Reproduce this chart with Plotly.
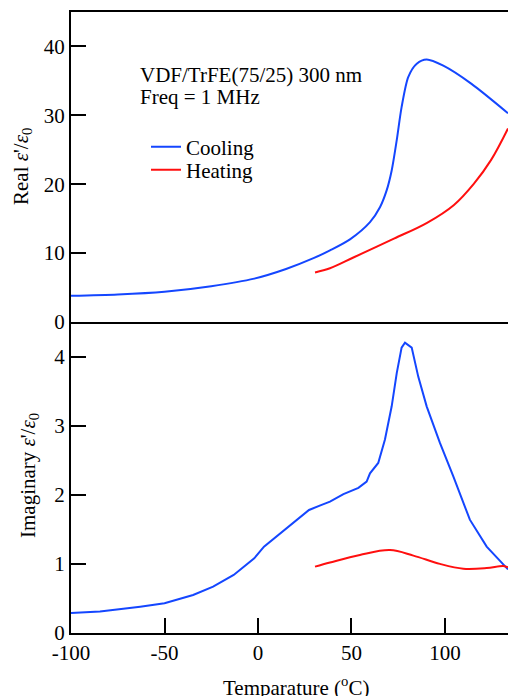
import plotly.graph_objects as go

# Real part (top panel)
real_cool_T = [-100, -75, -50, -25, -2, 15, 30, 38.5, 49.2, 59.9, 65.3, 68.8, 71.5, 74.2, 76.8, 80.4, 84.9,
               90.2, 99.1, 114, 133.7]
real_cool_v = [3.8, 4.0, 4.4, 5.2, 6.3, 7.7, 9.3, 10.4, 12.0, 14.5, 16.7, 19.1, 22.0, 26.4, 31.2, 35.6, 37.5,
               38.1, 37.2, 34.6, 30.3]
real_heat_T = [30.5, 38.5, 51.3, 72.7, 90.4, 104.8, 115.5, 124.6, 133.7]
real_heat_v = [7.2, 7.8, 9.4, 12.1, 14.4, 17.0, 20.1, 23.5, 28.1]

# Imaginary part (bottom panel)
imag_cool_T = [-100, -84.5, -63, -50, -34.7, -24, -13, -2, 3.2, 12.3, 21, 27.3, 33.7, 38.5, 45.7, 53.7, 58.1,
               59.9, 64.3, 67.9, 71.5, 74.2, 76.8, 78.6, 82.2, 85.7, 90.2, 97.3, 104.4, 113.3, 122.3, 133.7]
imag_cool_v = [0.29, 0.31, 0.38, 0.43, 0.55, 0.67, 0.84, 1.08, 1.25, 1.45, 1.64, 1.78, 1.85, 1.90, 2.01, 2.10, 2.19,
               2.31, 2.46, 2.80, 3.28, 3.76, 4.13, 4.20, 4.13, 3.71, 3.28, 2.75, 2.27, 1.64, 1.25, 0.92]
imag_heat_T = [30.5, 38.5, 54.5, 70.6, 83.1, 97.3, 109.8, 122.3, 131.2, 133.7]
imag_heat_v = [0.96, 1.02, 1.13, 1.20, 1.12, 1.00, 0.93, 0.94, 0.97, 0.95]

x_ticks = [-100, -50, 0, 50, 100]
x_tick_text = ["-100", "-50", "0", "50", "100"]
real_ticks = [0, 10, 20, 30, 40]
imag_ticks = [0, 1, 2, 3, 4]

BLUE = "rgb(20,70,255)"
RED = "rgb(255,15,15)"
FONT = "Liberation Serif, Times New Roman, serif"
FS = 21

fig = go.Figure()
fig.add_trace(go.Scatter(x=real_cool_T, y=real_cool_v, mode="lines", name="Cooling", legend="legend",
                         line=dict(color=BLUE, width=2, shape="spline", smoothing=0.8), xaxis="x2", yaxis="y2"))
fig.add_trace(go.Scatter(x=real_heat_T, y=real_heat_v, mode="lines", name="Heating", legend="legend2",
                         line=dict(color=RED, width=2, shape="spline"), xaxis="x2", yaxis="y2"))
fig.add_trace(go.Scatter(x=imag_cool_T, y=imag_cool_v, mode="lines", name="Cooling", showlegend=False,
                         line=dict(color=BLUE, width=2), xaxis="x", yaxis="y"))
fig.add_trace(go.Scatter(x=imag_heat_T, y=imag_heat_v, mode="lines", name="Heating", showlegend=False,
                         line=dict(color=RED, width=2, shape="spline"), xaxis="x", yaxis="y"))

PW, PH = 437, 621
split = 311 / PH
axis_common = dict(showline=True, linecolor="black", linewidth=2, showgrid=False, zeroline=False,
                   ticks="inside", ticklen=15, tickwidth=2, tickcolor="black", automargin=False,
                   tickfont=dict(family=FONT, size=FS, color="black"))


def px_x(px):
    return (px - 71) / PW


def px_y(py):
    return (633 - py) / PH


leg_common = dict(xanchor="left", yanchor="middle", bgcolor="rgba(0,0,0,0)",
                  font=dict(family=FONT, size=FS, color="black"), borderwidth=0)

fig.update_layout(
    width=508, height=696,
    margin=dict(l=71, r=0, t=12, b=63, autoexpand=False),
    plot_bgcolor="white", paper_bgcolor="white",
    font=dict(family=FONT, size=FS, color="black"),
    xaxis=dict(axis_common, range=[-100, 133.7], tickvals=x_ticks, ticktext=x_tick_text, anchor="y", domain=[0, 1]),
    xaxis2=dict(axis_common, range=[-100, 133.7], matches="x", anchor="y2", ticks="",
                showticklabels=False, mirror=True),
    yaxis=dict(axis_common, range=[0, 4.5], tickvals=imag_ticks, domain=[0, split], anchor="x"),
    yaxis2=dict(axis_common, range=[0, 45], tickvals=real_ticks, domain=[split, 1], anchor="x2"),
    showlegend=True,
    legend=dict(leg_common, x=px_x(146), y=px_y(147)),
    legend2=dict(leg_common, x=px_x(146), y=px_y(170)),
)

for txt, py in [("VDF/TrFE(75/25) 300 nm", 75), ("Freq = 1 MHz", 97)]:
    fig.add_annotation(text=txt, xref="paper", yref="paper", x=px_x(138), y=px_y(py),
                       xanchor="left", yanchor="middle", showarrow=False,
                       font=dict(family=FONT, size=FS, color="black"))

fig.add_annotation(text="Real <i>ε</i>'/<i>ε</i><sub>0</sub>", xref="paper", yref="paper",
                   x=px_x(22), y=px_y(167), textangle=-90, showarrow=False,
                   xanchor="center", yanchor="middle", font=dict(family=FONT, size=FS, color="black"))
fig.add_annotation(text="Imaginary <i>ε</i>'/<i>ε</i><sub>0</sub>", xref="paper", yref="paper",
                   x=px_x(29), y=px_y(476), textangle=-90, showarrow=False,
                   xanchor="center", yanchor="middle", font=dict(family=FONT, size=FS, color="black"))
fig.add_annotation(text="Temparature (<sup>o</sup>C)", xref="paper", yref="paper",
                   x=px_x(296), y=px_y(686), showarrow=False,
                   xanchor="center", yanchor="middle", font=dict(family=FONT, size=FS, color="black"))

fig.write_html("out.html", config={"displayModeBar": False},
               post_script="document.body.style.margin='0';document.body.style.overflow='hidden';")
